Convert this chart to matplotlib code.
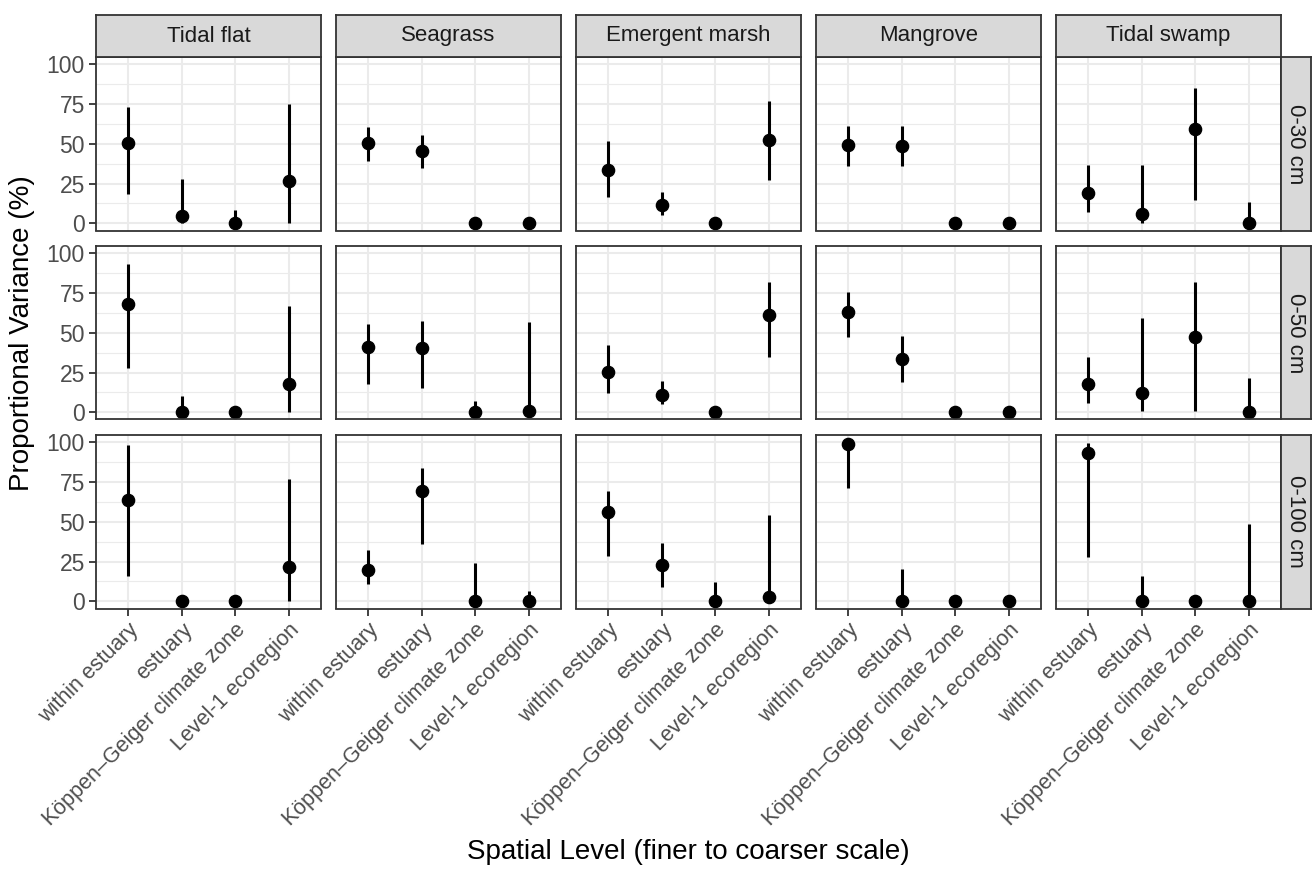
import matplotlib
matplotlib.use("Agg")
import matplotlib.pyplot as plt

plt.rcParams['font.family'] = ['Liberation Sans', 'DejaVu Sans']

levels = ["within estuary", "estuary", "Köppen–Geiger climate zone", "Level-1 ecoregion"]
habitats = ["Tidal flat", "Seagrass", "Emergent marsh", "Mangrove", "Tidal swamp"]
depths = ["0-30 cm", "0-50 cm", "0-100 cm"]

# 0-30 cm
est_30 = [[50.6, 4.4, 0, 26.4], [50.6, 45.3, 0, 0], [33.8, 11.8, 0, 52.6], [49.1, 48.4, 0, 0], [18.9, 5.9, 59.6, 0]]
lo_30 = [[18.7, 0.5, 0, 0], [39.4, 34.6, 0, 0], [16.6, 5.5, 0, 27.1], [35.8, 36.0, 0, 0], [6.9, 0.2, 14.9, 0]]
hi_30 = [[73.0, 27.9, 8.6, 75.3], [60.6, 55.8, 0, 0], [51.6, 19.7, 0, 76.7], [61.4, 61.4, 0, 0], [36.7, 36.9, 84.9, 13.4]]
# 0-50 cm
est_50 = [[67.9, 0, 0, 18.0], [41.1, 40.2, 0, 0.6], [25.5, 10.9, 0, 61.2], [62.9, 33.3, 0, 0], [17.8, 12.1, 47.2, 0]]
lo_50 = [[28.1, 0, 0, 0], [18.0, 15.1, 0, 0], [11.9, 5.0, 0, 35.0], [47.6, 19.3, 0, 0], [5.7, 1.0, 1.0, 0]]
hi_50 = [[93.3, 10.5, 0, 66.7], [55.5, 57.2, 7.3, 56.8], [42.5, 19.9, 0, 81.7], [75.9, 48.0, 0, 0], [34.6, 59.5, 81.7, 21.8]]
# 0-100 cm
est_100 = [[63.5, 0, 0, 21.4], [19.9, 69.2, 0, 0], [56.0, 23.1, 0, 2.7], [98.7, 0, 0, 0], [93.5, 0, 0, 0]]
lo_100 = [[15.9, 0, 0, 0], [11.1, 36.3, 0, 0], [28.5, 9.0, 0, 0], [71.5, 0, 0, 0], [27.9, 0, 0, 0]]
hi_100 = [[98.5, 0, 0, 76.7], [32.1, 84.1, 24.3, 6.5], [69.4, 36.7, 11.9, 54.5], [99.6, 20.5, 0, 0], [99.8, 15.7, 0, 48.9]]

est_all = [est_30, est_50, est_100]
lo_all = [lo_30, lo_50, lo_100]
hi_all = [hi_30, hi_50, hi_100]
yticks = [0, 25, 50, 75, 100]

W, H = 1312, 869
fig = plt.figure(figsize=(W / 100, H / 100), dpi=100)

def fr(x, y, w, h):
    return [x / W, 1 - (y + h) / H, w / W, h / H]

col_left = [96 + 240 * i for i in range(5)]
pw = 225
row_top = [57 + 189 * j for j in range(3)]
ph = 173.5

border_c = '#333333'
grid_c = '#EBEBEB'
strip_fill = '#D9D9D9'
ytick_fs = 16.5
xtick_fs = 15.5
strip_fs = 16
title_fs = 20

for r in range(3):
    for c in range(5):
        ax = fig.add_axes(fr(col_left[c], row_top[r], pw, ph))
        xs = list(range(1, len(levels) + 1))
        ax.set_xlim(0.4, 4.6)
        ax.set_ylim(-4.5, 104.6)
        ax.set_xticks(xs)
        ax.set_yticks(yticks)
        ax.set_yticks([12.5, 37.5, 62.5, 87.5], minor=True)
        ax.grid(True, which='major', color=grid_c, lw=1.5, zorder=0)
        ax.grid(True, which='minor', axis='y', color=grid_c, lw=0.8, zorder=0)
        ax.set_axisbelow(True)
        ax.vlines(xs, lo_all[r][c], hi_all[r][c], color='black', lw=2.2, zorder=3)
        ax.plot(xs, est_all[r][c], 'o', color='black', ms=8.8, zorder=4)
        for s in ax.spines.values():
            s.set_color(border_c)
            s.set_linewidth(1.3)
            s.set_zorder(5)
        ax.tick_params(which='both', length=0, colors=border_c)
        if c == 0:
            ax.set_yticklabels([str(v) for v in yticks], fontsize=ytick_fs, color='#4D4D4D')
            ax.tick_params(axis='y', which='major', length=5, width=1.3, color=border_c, pad=3)
        else:
            ax.set_yticklabels([])
        if r == 2:
            ax.set_xticklabels(levels, fontsize=xtick_fs, color='#4D4D4D', rotation=45,
                               ha='right', va='top', rotation_mode='anchor')
            ax.tick_params(axis='x', which='major', length=5, width=1.3, color=border_c, pad=3)
        else:
            ax.set_xticklabels([])
        if r == 0:
            sax = fig.add_axes(fr(col_left[c], 15, pw, 42))
            sax.set_xticks([]); sax.set_yticks([])
            sax.set_facecolor(strip_fill)
            for s in sax.spines.values():
                s.set_color(border_c); s.set_linewidth(1.3)
            sax.text(0.5, 0.5, habitats[c], ha='center', va='center', fontsize=strip_fs,
                     color='#1A1A1A', transform=sax.transAxes)
        if c == 4:
            sax = fig.add_axes(fr(1281, row_top[r], 30, ph))
            sax.set_xticks([]); sax.set_yticks([])
            sax.set_facecolor(strip_fill)
            for s in sax.spines.values():
                s.set_color(border_c); s.set_linewidth(1.3)
            sax.text(0.5, 0.5, depths[r], ha='center', va='center', fontsize=strip_fs,
                     color='#1A1A1A', rotation=-90, transform=sax.transAxes)

cx = (col_left[0] + col_left[4] + pw) / 2
cy = (row_top[0] + row_top[2] + ph) / 2
fig.text(cx / W, 1 - 852 / H, "Spatial Level (finer to coarser scale)", ha='center', va='center',
         fontsize=title_fs, color='black')
fig.text(22 / W, 1 - cy / H, "Proportional Variance (%)", ha='center', va='center',
         fontsize=title_fs, color='black', rotation=90)

fig.savefig("out.png", dpi=100, facecolor='white')
